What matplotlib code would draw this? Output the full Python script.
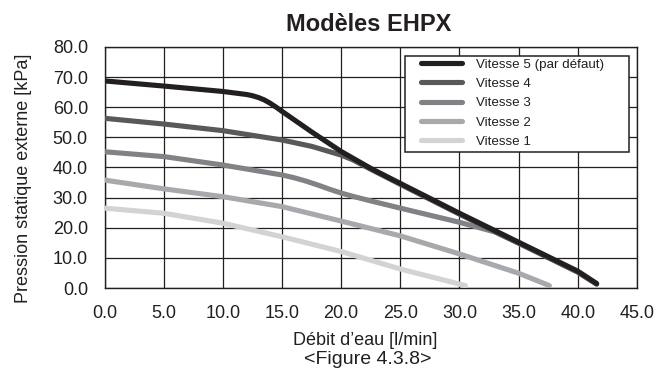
import matplotlib
matplotlib.use("Agg")
from matplotlib import pyplot as plt
from matplotlib.patches import Rectangle

plt.rcParams['font.family'] = ['Liberation Sans', 'DejaVu Sans']

v5_x = [0, 5, 10, 11, 12, 12.5, 13, 13.5, 14, 14.5, 15, 17.5, 20, 22.5, 25, 30, 35, 40, 41.6]
v5_y = [68.7, 67.0, 65.2, 64.7, 64.2, 63.8, 63.2, 62.4, 61.3, 60.0, 58.6, 51.8, 45.3, 39.7, 34.7,
        24.8, 15.2, 5.6, 1.5]

v4_x = [0, 5, 10, 15, 17.5, 20, 21, 22.5, 25, 30, 35, 40, 41.6]
v4_y = [56.3, 54.4, 52.2, 49.1, 47.0, 44.1, 42.5, 39.4, 34.4, 24.5, 14.9, 5.3, 1.3]

v3_x = [0, 5, 10, 15, 16, 17, 18, 19, 20, 21, 22.5, 25, 30, 33, 35, 40, 41.6]
v3_y = [45.2, 43.6, 40.8, 37.5, 36.6, 35.5, 34.2, 32.8, 31.5, 30.4, 28.9, 26.5, 21.8, 18.6, 14.9,
        5.3, 1.3]

v2_x = [0, 5, 10, 15, 20, 25, 30, 35, 37.6]
v2_y = [35.8, 32.9, 30.3, 27.0, 22.2, 17.3, 11.3, 4.9, 0.8]

v1_x = [0, 5, 10, 15, 20, 25, 30.5]
v1_y = [26.5, 24.8, 21.5, 17.0, 12.1, 6.3, 0.8]

labels = ["Vitesse 5 (par défaut)", "Vitesse 4", "Vitesse 3", "Vitesse 2", "Vitesse 1"]
colors = ["#231f20", "#58595b", "#808285", "#a7a9ac", "#d1d3d4"]
curves = [(v5_x, v5_y), (v4_x, v4_y), (v3_x, v3_y), (v2_x, v2_y), (v1_x, v1_y)]

fig = plt.figure(figsize=(6.62, 3.69), dpi=100)
ax = fig.add_axes([0.158, 0.2195, 0.804, 0.6535])

for i, (xs, ys) in enumerate(curves):
    ax.plot(xs, ys, color=colors[i], lw=3.7, solid_capstyle='round',
            solid_joinstyle='round', label=labels[i], zorder=10 - i)

ax.set_xlim(0, 45)
ax.set_ylim(0, 80)
ax.set_xticks(range(0, 46, 5))
ax.set_yticks(range(0, 81, 10))
ax.set_xticklabels([f"{v:.1f}" for v in range(0, 46, 5)])
ax.set_yticklabels([f"{v:.1f}" for v in range(0, 81, 10)])
ax.tick_params(length=0, pad=12, labelsize=13, colors='#231f20')
ax.grid(True, color='#231f20', lw=0.9)
ax.set_axisbelow(True)
for s in ax.spines.values():
    s.set_color('#231f20')
    s.set_linewidth(1.0)

# cadre de la legende, plus large que celui de matplotlib
ax.add_patch(Rectangle((0.5643, 0.5643), 0.4207, 0.398, transform=ax.transAxes,
                       facecolor='white', edgecolor='#231f20', lw=1.1, zorder=20))
leg = ax.legend(loc='upper left', bbox_to_anchor=(0.5944, 0.952), borderaxespad=0,
                fontsize=9.6, handlelength=3.1, handletextpad=1.05,
                labelspacing=0.52, frameon=False, borderpad=0)
leg.set_zorder(21)
for t in leg.get_texts():
    t.set_color('#231f20')

fig.text(368.5 / 662, 0.917, "Modèles EHPX", ha='center', va='baseline',
         fontsize=17, fontweight='bold', color='#231f20')
fig.text(24 / 662, 0.5167, "Pression statique externe [kPa]", rotation=90,
         ha='center', va='center', fontsize=13, color='#231f20')
fig.text(365.5 / 662, 0.065, "Débit d’eau [l/min]", ha='center', va='baseline',
         fontsize=13, color='#231f20')
fig.text(367.5 / 662, 0.013, "<Figure 4.3.8>", ha='center', va='baseline',
         fontsize=14, color='#231f20')

fig.savefig("out.png", dpi=100)
